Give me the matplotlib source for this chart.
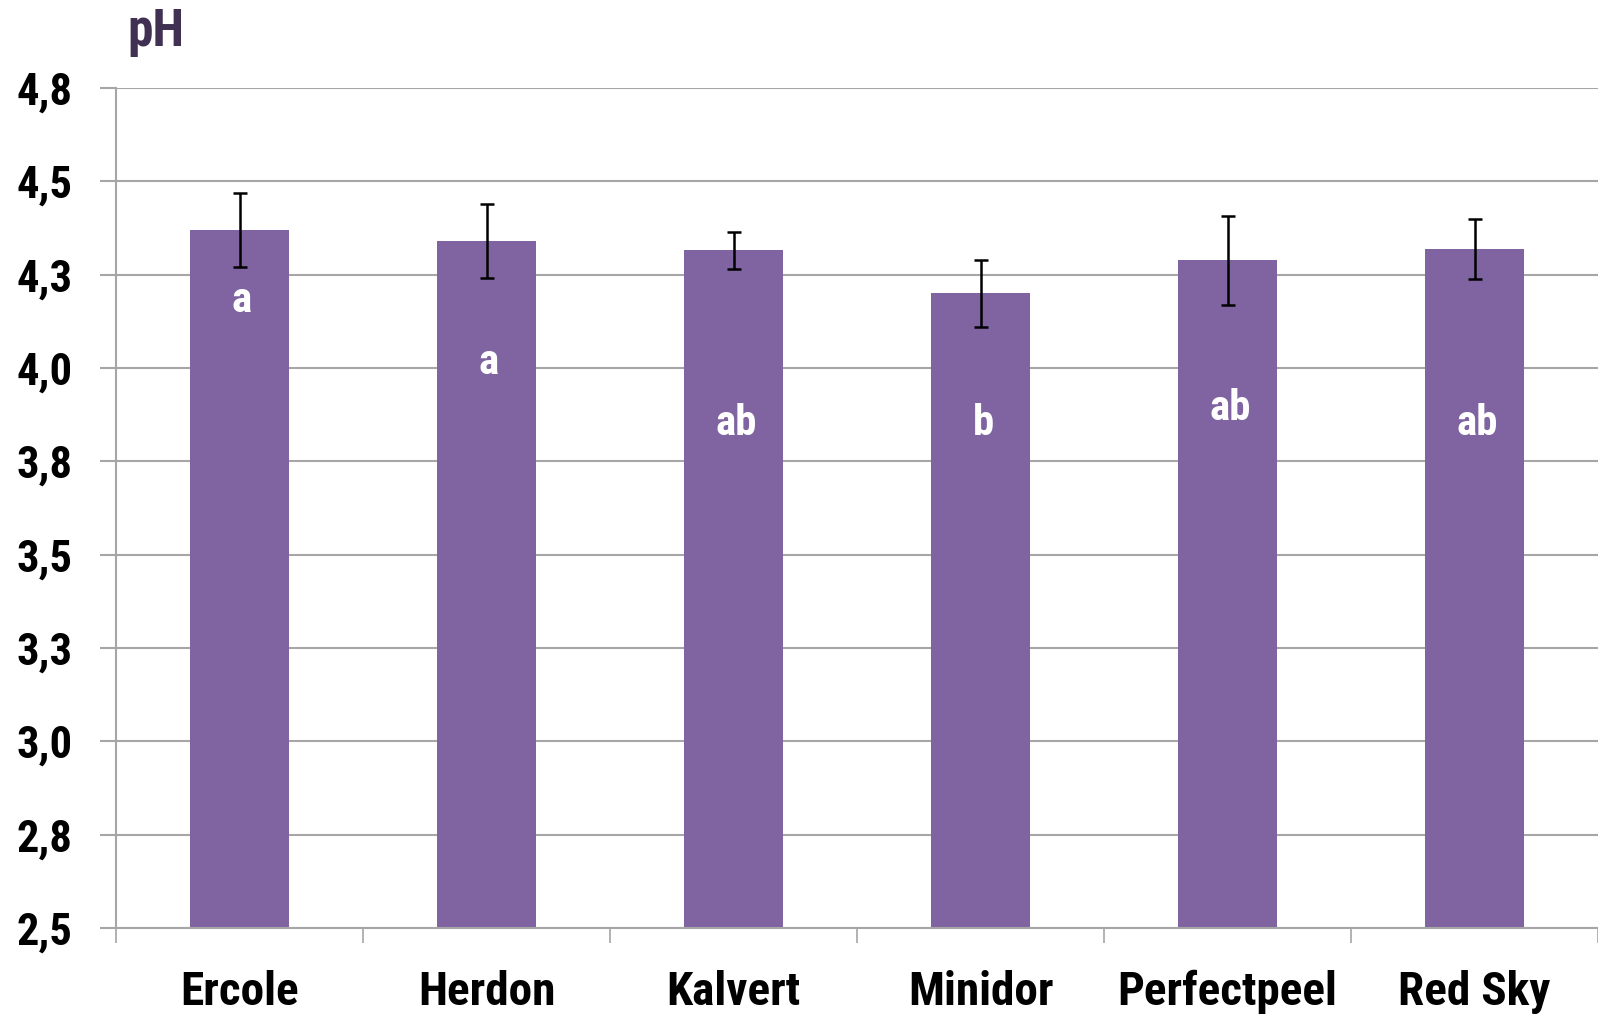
import matplotlib.pyplot as plt

# Data
varieties = ["Ercole", "Herdon", "Kalvert", "Minidor", "Perfectpeel", "Red Sky"]
ph_mean = [4.37, 4.34, 4.315, 4.20, 4.288, 4.318]
ph_err = [0.10, 0.10, 0.05, 0.089, 0.12, 0.08]
letters = ["a", "a", "ab", "b", "ab", "ab"]
letter_base = [4.15, 3.985, 3.82, 3.82, 3.86, 3.82]
ytick_values = [2.5, 2.75, 3.0, 3.25, 3.5, 3.75, 4.0, 4.25, 4.5, 4.75]
ytick_labels = ["2,5", "2,8", "3,0", "3,3", "3,5", "3,8", "4,0", "4,3", "4,5", "4,8"]

plt.rcParams["font.family"] = ["Roboto Condensed", "Liberation Sans", "DejaVu Sans"]
plt.rcParams["font.weight"] = "bold"

bar_color = "#8064A2"
grid_color = "#A6A6A6"

fig = plt.figure(figsize=(15.98, 10.15), dpi=100)
ax = fig.add_axes([0.0726, 0.0857, 0.9274, 0.8276])

x = list(range(len(varieties)))
ax.bar(x, ph_mean, width=0.40, color=bar_color, zorder=2)
ax.errorbar(x, ph_mean, yerr=ph_err, fmt="none", ecolor="black",
            elinewidth=1.8, capsize=4.7, capthick=1.8, zorder=3)

# significance letters inside the bars
for xi, lab, ly in zip(x, letters, letter_base):
    ax.text(xi + 0.01, ly, lab, ha="center", va="baseline", color="white",
            fontsize=31, fontweight="bold", zorder=4)

ax.set_ylim(2.5, 4.75)
ax.set_xlim(-0.5, 5.465)
ax.set_yticks(ytick_values)
ax.set_yticklabels(ytick_labels)
ax.yaxis.grid(True, color=grid_color, linewidth=1.5, zorder=0)
ax.set_axisbelow(True)

ax.set_xticks(x)
ax.set_xticklabels(varieties)
ax.set_xticks([i - 0.5 for i in range(len(varieties) + 1)], minor=True)
ax.tick_params(axis="x", which="major", length=0, pad=30, labelsize=34)
ax.tick_params(axis="x", which="minor", length=11, width=1.2, color=grid_color)
ax.tick_params(axis="y", length=11.5, width=1.5, color=grid_color, pad=20, labelsize=32)

for s in ["top", "right"]:
    ax.spines[s].set_visible(False)
for s in ["left", "bottom"]:
    ax.spines[s].set_color(grid_color)
    ax.spines[s].set_linewidth(1.5)

fig.text(0.080, 0.955, "pH", ha="left", va="baseline", fontsize=37,
         fontweight="bold", color="#403152")

fig.savefig("out.png", dpi=100)
